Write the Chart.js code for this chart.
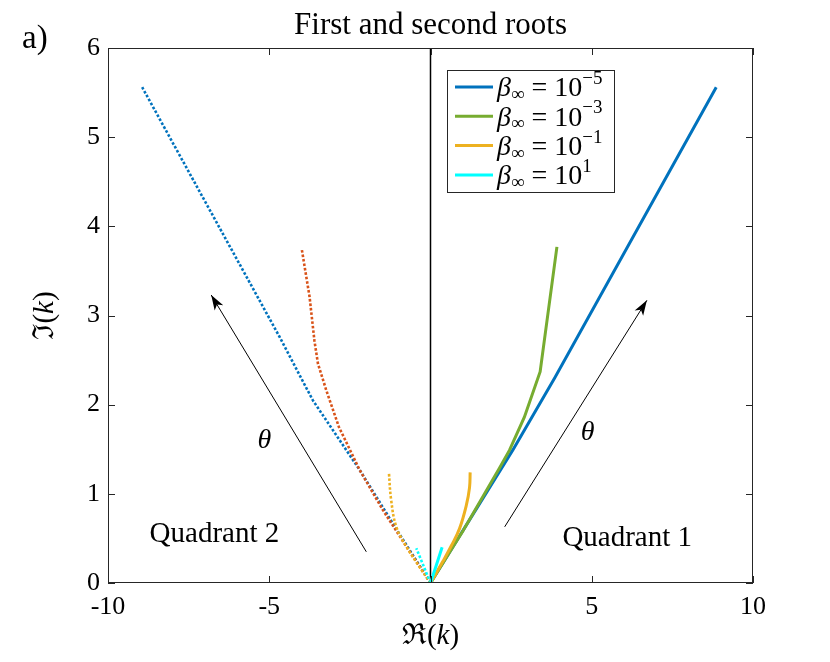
<!DOCTYPE html>
<html>
<head>
<meta charset="utf-8">
<script src="https://cdn.jsdelivr.net/npm/chart.js@4.4.1/dist/chart.umd.min.js"></script>
<style>
  html, body { margin: 0; background: #fff; }
</style>
</head>
<body>
<canvas id="myChart" width="830" height="662"></canvas>
<script>
// beta_inf exponents for the legend
const betaExp = [-5, -3, -1, 1];

// first root (quadrant 1, solid)
const r1Re_5 = [0, 2.55, 3.85, 8.86];
const r1Im_5 = [0, 1.49, 2.30, 5.56];
const r1Re_3 = [0, 1.0, 2.14, 2.45, 2.91, 3.40, 3.92];
const r1Im_3 = [0, 0.58, 1.29, 1.49, 1.86, 2.37, 3.77];
const r1Re_1 = [0, 0.38, 0.65, 0.90, 1.11, 1.21, 1.23];
const r1Im_1 = [0, 0.24, 0.42, 0.61, 0.87, 1.07, 1.24];
const r1Re_p1 = [0, 0.18, 0.36];
const r1Im_p1 = [0, 0.20, 0.40];

// second root (quadrant 2, dotted)
const r2Re_5 = [0, -1.0, -2.2, -2.61, -3.65, -4.68, -5.82, -8.94];
const r2Im_5 = [0, 0.57, 1.27, 1.49, 2.05, 2.76, 3.51, 5.56];
const r2Re_3 = [0, -0.75, -1.48, -2.20, -2.84, -3.23, -3.49, -3.60, -3.75, -3.99];
const r2Im_3 = [0, 0.41, 0.82, 1.27, 1.75, 2.16, 2.46, 2.72, 3.21, 3.74];
const r2Re_1 = [0, -0.34, -0.75, -1.06, -1.22, -1.29];
const r2Im_1 = [0, 0.18, 0.41, 0.63, 0.93, 1.24];
const r2Re_p1 = [0, -0.44];
const r2Im_p1 = [0, 0.39];

// annotation arrows (tail -> tip) and labels, in data units
const arrowQ2 = [[-1.99, 0.35], [-6.80, 3.23]];
const arrowQ1 = [[2.30, 0.63], [6.71, 3.17]];
const thetaPos = [[-5.15, 1.60], [4.87, 1.69]];
const quadLabels = [['Quadrant 2', -6.70, 0.55], ['Quadrant 1', 6.10, 0.50]];

const SERIF = "'Liberation Serif', 'DejaVu Serif', serif";
const AX = '#262626';

function pts(re, im) {
    return re.map((v, i) => ({ x: v, y: im[i] }));
}

function solid(re, im, color, smooth) {
    return { data: pts(re, im), borderColor: color, backgroundColor: color, borderWidth: 3, showLine: true, pointRadius: 0, fill: false, tension: smooth ? 0.4 : 0 };
}
function dotted(re, im, color, smooth) {
    return { data: pts(re, im), borderColor: color, backgroundColor: color, borderWidth: 2.6, borderDash: [2.6, 1.9], showLine: true, pointRadius: 0, fill: false, tension: smooth ? 0.4 : 0 };
}

// first in list = drawn on top
const datasets = [
    solid(r1Re_p1, r1Im_p1, '#00FFFF'),
    solid(r1Re_1, r1Im_1, '#EDB120', true),
    solid(r1Re_3, r1Im_3, '#77AC30'),
    solid(r1Re_5, r1Im_5, '#0072BD'),
    dotted(r2Re_p1, r2Im_p1, '#00FFFF'),
    dotted(r2Re_1, r2Im_1, '#EDB120', true),
    dotted(r2Re_3, r2Im_3, '#D95319'),
    dotted(r2Re_5, r2Im_5, '#0072BD'),
    { data: [{ x: 0, y: 0 }, { x: 0, y: 6 }], borderColor: '#000', borderWidth: 1.5, showLine: true, pointRadius: 0 }
];
// legend entries (solid curves) in legend order
const legendSets = [3, 2, 1, 0];

function runs(ctx, x, y, parts, align) {
    let w = 0;
    parts.forEach(p => { ctx.font = p.f; w += ctx.measureText(p.t).width; });
    let cx = align === 'center' ? x - w / 2 : x;
    parts.forEach(p => {
        ctx.font = p.f;
        ctx.fillText(p.t, cx, y + (p.dy || 0));
        cx += ctx.measureText(p.t).width;
    });
}

function arrow(ctx, x0, y0, x1, y1) {
    ctx.beginPath();
    ctx.moveTo(x0, y0);
    ctx.lineTo(x1, y1);
    ctx.stroke();
    const a = Math.atan2(y1 - y0, x1 - x0), L = 15, W = 5;
    ctx.beginPath();
    ctx.moveTo(x1, y1);
    ctx.lineTo(x1 - L * Math.cos(a) + W * Math.sin(a), y1 - L * Math.sin(a) - W * Math.cos(a));
    ctx.lineTo(x1 - L * 0.75 * Math.cos(a), y1 - L * 0.75 * Math.sin(a));
    ctx.lineTo(x1 - L * Math.cos(a) - W * Math.sin(a), y1 - L * Math.sin(a) + W * Math.cos(a));
    ctx.closePath();
    ctx.fill();
}

const decor = {
    id: 'decor',
    afterDraw(chart) {
        const ctx = chart.ctx, a = chart.chartArea;
        const xs = chart.scales.x, ys = chart.scales.y;
        ctx.save();
        // box + inward ticks
        ctx.strokeStyle = AX;
        ctx.lineWidth = 1;
        ctx.strokeRect(a.left + 0.5, a.top + 0.5, a.right - a.left - 1, a.bottom - a.top - 1);
        ctx.beginPath();
        xs.ticks.forEach(t => {
            const px = Math.round(xs.getPixelForValue(t.value)) + 0.5;
            ctx.moveTo(px, a.bottom); ctx.lineTo(px, a.bottom - 7);
            ctx.moveTo(px, a.top); ctx.lineTo(px, a.top + 7);
        });
        ys.ticks.forEach(t => {
            const py = Math.round(ys.getPixelForValue(t.value)) + 0.5;
            ctx.moveTo(a.left, py); ctx.lineTo(a.left + 7, py);
            ctx.moveTo(a.right, py); ctx.lineTo(a.right - 7, py);
        });
        ctx.stroke();

        ctx.fillStyle = '#000';
        ctx.textBaseline = 'middle';
        ctx.textAlign = 'left';
        // title and panel letter
        runs(ctx, (a.left + a.right) / 2, 26, [{ t: 'First and second roots', f: '31px ' + SERIF }], 'center');
        runs(ctx, 22, 39, [{ t: 'a)', f: '33px ' + SERIF }], 'left');
        // axis labels
        runs(ctx, (a.left + a.right) / 2, 636, [
            { t: 'ℜ(', f: '29px ' + SERIF }, { t: 'k', f: 'italic 29px ' + SERIF }, { t: ')', f: '29px ' + SERIF }
        ], 'center');
        ctx.save();
        ctx.translate(45, (a.top + a.bottom) / 2);
        ctx.rotate(-Math.PI / 2);
        runs(ctx, 0, 0, [
            { t: 'ℑ(', f: '29px ' + SERIF }, { t: 'k', f: 'italic 29px ' + SERIF }, { t: ')', f: '29px ' + SERIF }
        ], 'center');
        ctx.restore();

        // arrows
        ctx.strokeStyle = '#000';
        ctx.lineWidth = 1;
        [arrowQ2, arrowQ1].forEach(ar => {
            arrow(ctx, xs.getPixelForValue(ar[0][0]), ys.getPixelForValue(ar[0][1]),
                xs.getPixelForValue(ar[1][0]), ys.getPixelForValue(ar[1][1]));
        });
        thetaPos.forEach(p => {
            runs(ctx, xs.getPixelForValue(p[0]), ys.getPixelForValue(p[1]), [{ t: 'θ', f: 'italic 28px ' + SERIF }], 'center');
        });
        quadLabels.forEach(q => {
            runs(ctx, xs.getPixelForValue(q[1]), ys.getPixelForValue(q[2]), [{ t: q[0], f: '29px ' + SERIF }], 'center');
        });

        // legend
        const lx = 447, ly = 70, lw = 167, lh = 122;
        ctx.fillStyle = '#fff';
        ctx.fillRect(lx, ly, lw, lh);
        ctx.strokeStyle = AX;
        ctx.strokeRect(lx + 0.5, ly + 0.5, lw, lh);
        legendSets.forEach((di, i) => {
            const y = ly + 17 + i * 29.3;
            ctx.strokeStyle = chart.data.datasets[di].borderColor;
            ctx.lineWidth = 3;
            ctx.beginPath();
            ctx.moveTo(lx + 8, y); ctx.lineTo(lx + 46, y);
            ctx.stroke();
            ctx.fillStyle = '#000';
            const e = betaExp[i];
            runs(ctx, lx + 50, y + 2, [
                { t: 'β', f: 'italic 28px ' + SERIF },
                { t: '∞', f: '19px ' + SERIF, dy: 6 },
                { t: ' = 10', f: '28px ' + SERIF },
                { t: (e < 0 ? '−' : '') + Math.abs(e), f: '19px ' + SERIF, dy: -10 }
            ], 'left');
        });
        ctx.restore();
    }
};

const config = {
    type: 'scatter',
    data: { datasets: datasets },
    options: {
        responsive: false,
        animation: false,
        layout: { padding: { left: 0, top: 48, right: 77, bottom: 0 } },
        plugins: { legend: { display: false }, tooltip: { enabled: false } },
        scales: {
            x: {
                type: 'linear', min: -10, max: 10,
                ticks: { stepSize: 5, padding: 9, color: '#000', font: { family: SERIF, size: 26 } },
                grid: { display: false, drawTicks: false },
                border: { display: false },
                afterFit: s => { s.height = 79; }
            },
            y: {
                type: 'linear', min: 0, max: 6,
                ticks: { stepSize: 1, padding: 8, color: '#000', font: { family: SERIF, size: 26 } },
                grid: { display: false, drawTicks: false },
                border: { display: false },
                afterFit: s => { s.width = 108; }
            }
        }
    },
    plugins: [decor]
};
const ctx = document.getElementById('myChart').getContext('2d');
const myChart = new Chart(ctx, config);
</script>
</body>
</html>
